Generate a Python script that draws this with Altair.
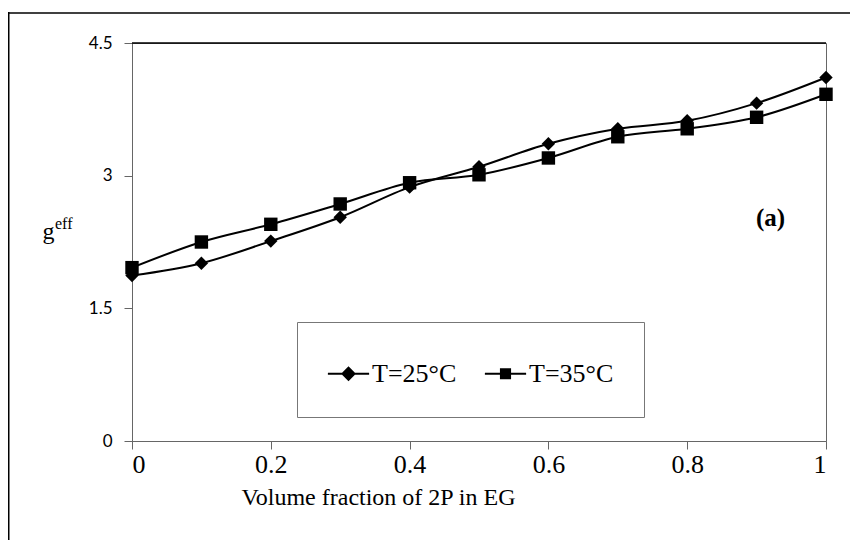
import altair as alt
import pandas as pd

fractions = [0.0, 0.1, 0.2, 0.3, 0.4, 0.5, 0.6, 0.7, 0.8, 0.9, 1.0]
g_25 = [1.87, 2.01, 2.26, 2.53, 2.87, 3.10, 3.36, 3.53, 3.62, 3.82, 4.11]
g_35 = [1.96, 2.25, 2.45, 2.68, 2.92, 3.01, 3.20, 3.44, 3.53, 3.66, 3.92]
series_names = ["T=25°C", "T=35°C"]
x_ticks = [0, 0.2, 0.4, 0.6, 0.8, 1.0]
y_ticks = [0, 1.5, 3, 4.5]

rows = []
for name, vals in zip(series_names, [g_25, g_35]):
    for f, v in zip(fractions, vals):
        rows.append({"frac": f, "g": v, "series": name})
df = pd.DataFrame(rows)

SERIF = "Liberation Serif"
SANS = "Lato"

x_enc = alt.X("frac:Q", scale=alt.Scale(domain=[0, 1], nice=False),
              axis=alt.Axis(values=x_ticks, title="Volume fraction of 2P in EG",
                            format="~g", grid=False))
y_enc = alt.Y("g:Q", scale=alt.Scale(domain=[0, 4.5], nice=False),
              axis=alt.Axis(values=y_ticks, title="g", format="~g", grid=False,
                            titleAngle=0, titleAlign="left", titleBaseline="alphabetic",
                            titleX=-90, titleY=195, titleFont=SERIF, titleFontSize=24,
                            titleFontWeight="normal", labelFont=SANS, labelFontSize=17,
                            labelPadding=12))

base = alt.Chart(df)

lines = base.mark_line(interpolate="monotone", color="black", strokeWidth=2).encode(
    x=x_enc, y=y_enc, detail="series:N")

points = base.mark_point(filled=True, color="black", opacity=1, size=180).encode(
    x=x_enc, y=y_enc,
    shape=alt.Shape("series:N", scale=alt.Scale(domain=series_names, range=["diamond", "square"]),
                    legend=None))

# legend glyphs: a thin bar (the line) united with the marker, all filled
leg_diamond = "M-1,-0.05L1,-0.05L1,0.05L-1,0.05ZM0,-0.36L0.36,0L0,0.36L-0.36,0Z"
leg_square = "M-1,-0.05L1,-0.05L1,0.05L-1,0.05ZM-0.27,-0.27L0.27,-0.27L0.27,0.27L-0.27,0.27Z"
legend_layer = base.transform_filter("false").mark_point(
    filled=True, color="black", opacity=1).encode(
    x=x_enc, y=y_enc,
    shape=alt.Shape("series:N", scale=alt.Scale(domain=series_names, range=[leg_diamond, leg_square]),
                    legend=alt.Legend(title=None, orient="none", legendX=165, legendY=279,
                                      direction="horizontal", padding=30, strokeColor="#777",
                                      labelFont=SERIF, labelFontSize=26, labelColor="black",
                                      labelOffset=2, columnPadding=24, symbolSize=1700,
                                      symbolFillColor="black", symbolOpacity=1)))

ann_df = pd.DataFrame({"frac": [0.92], "g": [2.52], "txt": ["(a)"]})
label_a = alt.Chart(ann_df).mark_text(font=SERIF, fontSize=25, fontWeight="bold",
                                      color="black").encode(x="frac:Q", y="g:Q", text="txt:N")

eff = alt.Chart(ann_df).mark_text(font=SERIF, fontSize=16, align="left", baseline="alphabetic",
                                  color="black", text="eff").encode(
    x=alt.value(-77), y=alt.value(186))

top_rule = alt.Chart(ann_df).mark_rule(color="black", strokeWidth=1.5).encode(
    y=alt.datum(4.5), x=alt.value(0), x2=alt.value(694))

outer_left = alt.Chart(ann_df).mark_rect(color="black", strokeWidth=0).encode(
    x=alt.value(-124), x2=alt.value(-122.5), y=alt.value(-31), y2=alt.value(497))
outer_top = alt.Chart(ann_df).mark_rule(color="black", strokeWidth=1.5).encode(
    y=alt.value(-30), y2=alt.value(-30), x=alt.value(-124), x2=alt.value(718))

chart = alt.layer(outer_left, outer_top, lines, points, legend_layer, label_a, eff, top_rule).resolve_scale(
    shape="independent"
).properties(
    width=694, height=398,
    autosize=alt.AutoSizeParams(type="none"),
    padding={"left": 124, "top": 35, "right": 24, "bottom": 100},
    background="white",
).configure_view(stroke="#666", strokeWidth=1).configure_axis(
    domainColor="#666", tickColor="#666", tickSize=8, labelColor="black",
    titleColor="black",
).configure_axisX(
    labelFont=SERIF, labelFontSize=26, labelPadding=2, titleFont=SERIF, titleFontSize=24,
    titleFontWeight="normal", titlePadding=8, titleX=246, titleAlign="center",
)

chart.save("out.html", embed_options={"renderer": "svg", "actions": False})
